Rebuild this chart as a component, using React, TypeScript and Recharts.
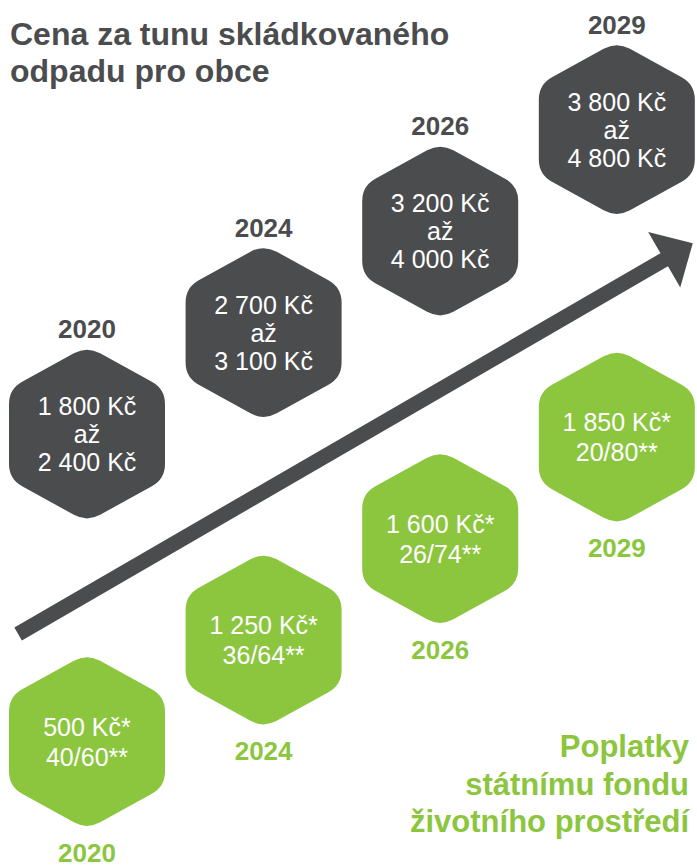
import { ScatterChart, Scatter, XAxis, YAxis, ReferenceLine } from 'recharts';

const years = ['2020', '2024', '2026', '2029'];
const priceFrom = [1800, 2700, 3200, 3800];
const priceTo = [2400, 3100, 4000, 4800];
const fundFee = [500, 1250, 1600, 1850];
const municipalShare = [40, 36, 26, 20];
const fundShare = [60, 64, 74, 80];

// trend arrow, start and tip in axis units
const arrowEnds = [
  { x: -0.39, y: -1.97 },
  { x: 3.43, y: 1.88 },
];

const DARK = '#4b4c4e';
const GREEN = '#8cc63f';
const FONT = '"Liberation Sans", Arial, Helvetica, sans-serif';
const GREEN_DROP = 3.03;

const fmt = (n: number) => n.toString().replace(/\B(?=(\d{3})+(?!\d))/g, ' ');

const priceData = years.map((year, i) => ({
  x: i,
  y: i,
  year,
  lines: [`${fmt(priceFrom[i])} Kč`, 'až', `${fmt(priceTo[i])} Kč`],
}));

const feeData = years.map((year, i) => ({
  x: i,
  y: i - GREEN_DROP,
  year,
  lines: [`${fmt(fundFee[i])} Kč*`, `${municipalShare[i]}/${fundShare[i]}**`],
}));

function toward(a: number[], b: number[], r: number) {
  const dx = b[0] - a[0];
  const dy = b[1] - a[1];
  const len = Math.hypot(dx, dy);
  return `${a[0] + (dx / len) * r},${a[1] + (dy / len) * r}`;
}

function hexPath(cx: number, cy: number, w = 78, s = 45, h = 88, r = 15) {
  const pts = [[0, -h], [w, -s], [w, s], [0, h], [-w, s], [-w, -s]].map(([x, y]) => [cx + x, cy + y]);
  let d = '';
  pts.forEach((p, i) => {
    const prev = pts[(i + 5) % 6];
    const next = pts[(i + 1) % 6];
    d += `${i === 0 ? 'M' : 'L'}${toward(p, prev, r)} Q${p[0]},${p[1]} ${toward(p, next, r)} `;
  });
  return d + 'Z';
}

function PriceHex(props: any) {
  const { cx, cy, payload } = props;
  return (
    <g>
      <text x={cx} y={cy - 105} textAnchor="middle" dominantBaseline="central"
        fontSize={26} fontWeight="bold" fill={DARK} fontFamily={FONT}>{payload.year}</text>
      <path d={hexPath(cx, cy)} fill={DARK} />
      {payload.lines.map((t: string, k: number) => (
        <text key={k} x={cx} y={cy + (k - 1) * 28} textAnchor="middle" dominantBaseline="central"
          fontSize={25} fill="#fff" fontFamily={FONT}>{t}</text>
      ))}
    </g>
  );
}

function FeeHex(props: any) {
  const { cx, cy, payload } = props;
  return (
    <g>
      <path d={hexPath(cx, cy)} fill={GREEN} />
      {payload.lines.map((t: string, k: number) => (
        <text key={k} x={cx} y={cy + (k - 0.5) * 30} textAnchor="middle" dominantBaseline="central"
          fontSize={25} fill="#fff" fontFamily={FONT}>{t}</text>
      ))}
      <text x={cx} y={cy + 111} textAnchor="middle" dominantBaseline="central"
        fontSize={26} fontWeight="bold" fill={GREEN} fontFamily={FONT}>{payload.year}</text>
    </g>
  );
}

function Arrow(props: any) {
  const { x1, y1, x2, y2 } = props;
  const len = Math.hypot(x2 - x1, y2 - y1);
  const ux = (x2 - x1) / len;
  const uy = (y2 - y1) / len;
  const headLen = 33;
  const half = 32;
  const bx = x2 - ux * headLen;
  const by = y2 - uy * headLen;
  return (
    <g>
      <line x1={x1} y1={y1} x2={bx + ux * 2} y2={by + uy * 2} stroke={DARK} strokeWidth={15} />
      <polygon
        points={`${x2},${y2} ${bx - uy * half},${by + ux * half} ${bx + uy * half},${by - ux * half}`}
        fill={DARK}
      />
    </g>
  );
}

export default function App() {
  return (
    <div style={{ position: 'absolute', left: 0, top: 0, width: 697, height: 867, background: '#fff', fontFamily: FONT }}>
      <div style={{ position: 'absolute', left: 10, top: 16, fontSize: 32, lineHeight: '37px', fontWeight: 'bold', color: DARK }}>
        Cena za tunu skládkovaného<br />odpadu pro obce
      </div>
      <ScatterChart width={697} height={867} margin={{ top: 0, right: 0, bottom: 0, left: 0 }}>
        <XAxis type="number" dataKey="x" domain={[-0.4926, 3.454]} hide />
        <YAxis type="number" dataKey="y" domain={[-4.266, 4.276]} hide />
        <ReferenceLine segment={arrowEnds} shape={Arrow} />
        <Scatter data={priceData} shape={PriceHex} isAnimationActive={false} />
        <Scatter data={feeData} shape={FeeHex} isAnimationActive={false} />
      </ScatterChart>
      <div style={{ position: 'absolute', right: 8, top: 728, fontSize: 31, lineHeight: '37.5px', fontWeight: 'bold', color: GREEN, textAlign: 'right' }}>
        Poplatky<br />státnímu fondu<br />životního prostředí
      </div>
    </div>
  );
}
